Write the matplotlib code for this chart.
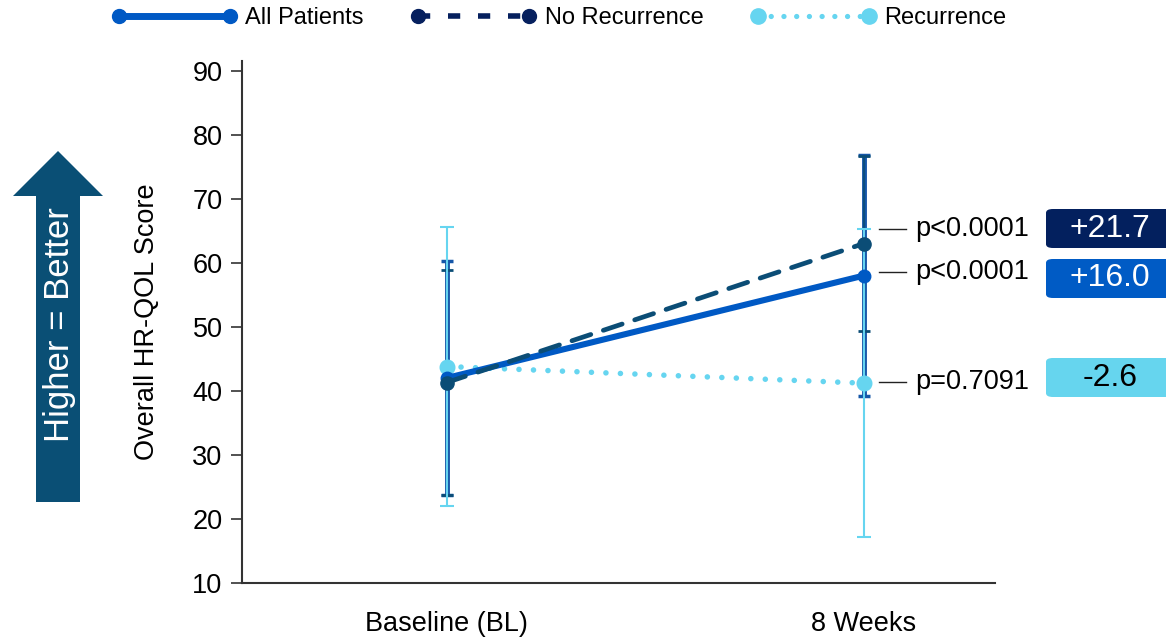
import matplotlib
matplotlib.use("Agg")
import matplotlib.pyplot as plt
from matplotlib.lines import Line2D
from matplotlib.patches import FancyBboxPatch, Polygon

plt.rcParams['font.family'] = ['Liberation Sans', 'DejaVu Sans']

# ---------------- data ----------------
timepoints = ["Baseline (BL)", "8 Weeks"]
series_names = ["All Patients", "No Recurrence", "Recurrence"]
all_patients = [42.0, 58.0]
all_patients_err = [18.3, 18.8]
no_recurrence = [41.3, 63.0]
no_recurrence_err = [17.6, 13.7]
recurrence = [43.8, 41.2]
recurrence_err = [21.8, 24.0]
p_values = ["p<0.0001", "p<0.0001", "p=0.7091"]
changes = ["+21.7", "+16.0", "-2.6"]
y_ticks = [10, 20, 30, 40, 50, 60, 70, 80, 90]

C_ALL = "#0059c4"
C_NOREC = "#0b4d76"
C_NOREC_LEG = "#06205e"
C_REC = "#66d5f0"
C_ALL_ERR = "#1556a8"
C_ARROW = "#0a4f75"

W, H = 1166, 638
fig = plt.figure(figsize=(W / 100, H / 100), dpi=100)

def fx(px):
    return px / W

def fy(py):
    return 1 - py / H

ax = fig.add_axes([fx(242), fy(583), fx(995) - fx(242), fy(61) - fy(583)])
x = list(range(len(timepoints)))

# error bars
ax.errorbar(x, all_patients, yerr=all_patients_err, fmt="none", ecolor=C_ALL_ERR,
            elinewidth=3.5, capsize=4, capthick=2.5, zorder=2)
ax.errorbar(x, no_recurrence, yerr=no_recurrence_err, fmt="none", ecolor=C_NOREC,
            elinewidth=1.2, capsize=4, capthick=2, zorder=2.2)
ax.errorbar(x, recurrence, yerr=recurrence_err, fmt="none", ecolor=C_REC,
            elinewidth=1.5, capsize=5, capthick=1.5, zorder=2.4)

# lines
ax.plot(x, recurrence, color=C_REC, lw=4.0, linestyle=(0, (0.01, 2.6)),
        dash_capstyle="round", marker="o", markersize=10.5, zorder=3)
ax.plot(x, all_patients, color=C_ALL, lw=4.4, marker="o", markersize=9, zorder=4)
ax.plot(x, no_recurrence, color=C_NOREC, lw=3.4, linestyle=(0, (4.2, 2.8)),
        dash_capstyle="round", marker="o", markersize=9.5, zorder=5)

ax.set_xlim(-0.49, 1.314)
ax.set_ylim(10, 91.5)
ax.set_yticks(y_ticks)
ax.set_xticks(x)
ax.set_xticklabels(timepoints, fontsize=19.5)
ax.tick_params(axis="y", labelsize=19.5, length=8, width=1.2, color="#333333", pad=6)
ax.tick_params(axis="x", length=0, pad=20)
for s in ["top", "right"]:
    ax.spines[s].set_visible(False)
for s in ["left", "bottom"]:
    ax.spines[s].set_linewidth(1.5)
    ax.spines[s].set_color("#333333")
ax.set_ylabel("Overall HR-QOL Score", fontsize=19.5, labelpad=23)

# p-value annotations
p_ypos = [65.2, 58.6, 41.4]
for label, yv in zip(p_values, p_ypos):
    ax.plot([1.035, 1.1], [yv, yv], color="#222222", lw=1.0, clip_on=False)
    ax.text(1.122, yv, label, fontsize=19.5, va="center", ha="left")

# change boxes
box_specs = [(209, "#03205e", "white"), (259, "#005bc5", "white"), (358, "#66d5ee", "black")]
for (top, fc, tc), txt in zip(box_specs, changes):
    hpx = 39
    patch = FancyBboxPatch((fx(1046), fy(top + hpx)), fx(1180) - fx(1046), fy(top) - fy(top + hpx),
                           boxstyle="round,pad=0,rounding_size=0.006", transform=fig.transFigure,
                           facecolor=fc, edgecolor="none", clip_on=False)
    fig.add_artist(patch)
    fig.text(fx(1110), fy(top + hpx / 2), txt, color=tc, fontsize=23, ha="center", va="center")

# arrow
arrow_pts = [(36, 502), (80, 502), (80, 196), (103, 196), (58, 151), (13, 196), (36, 196)]
arrow = Polygon([(fx(a), fy(b)) for a, b in arrow_pts], closed=True, transform=fig.transFigure,
                facecolor=C_ARROW, edgecolor="none")
fig.add_artist(arrow)
fig.text(fx(59), fy(325), "Higher = Better", rotation=90, color="white", fontsize=25,
         ha="center", va="center")

# legend
handles = [
    Line2D([0], [0], color=C_ALL, lw=5, marker="o", markersize=10),
    Line2D([0], [0], color=C_NOREC_LEG, lw=4, linestyle=(0, (2.2, 3.2)), marker="o", markersize=10),
    Line2D([0], [0], color=C_REC, lw=3.8, linestyle=(0, (0.01, 2.4)), dash_capstyle="round",
           marker="o", markersize=11),
]
fig.legend(handles, series_names, loc="center", bbox_to_anchor=(fx(559), fy(18)), ncol=3,
           frameon=False, fontsize=17, numpoints=2, handlelength=5.3, handletextpad=0.35,
           columnspacing=2.0, borderaxespad=0)

fig.savefig("out.png", dpi=100)
